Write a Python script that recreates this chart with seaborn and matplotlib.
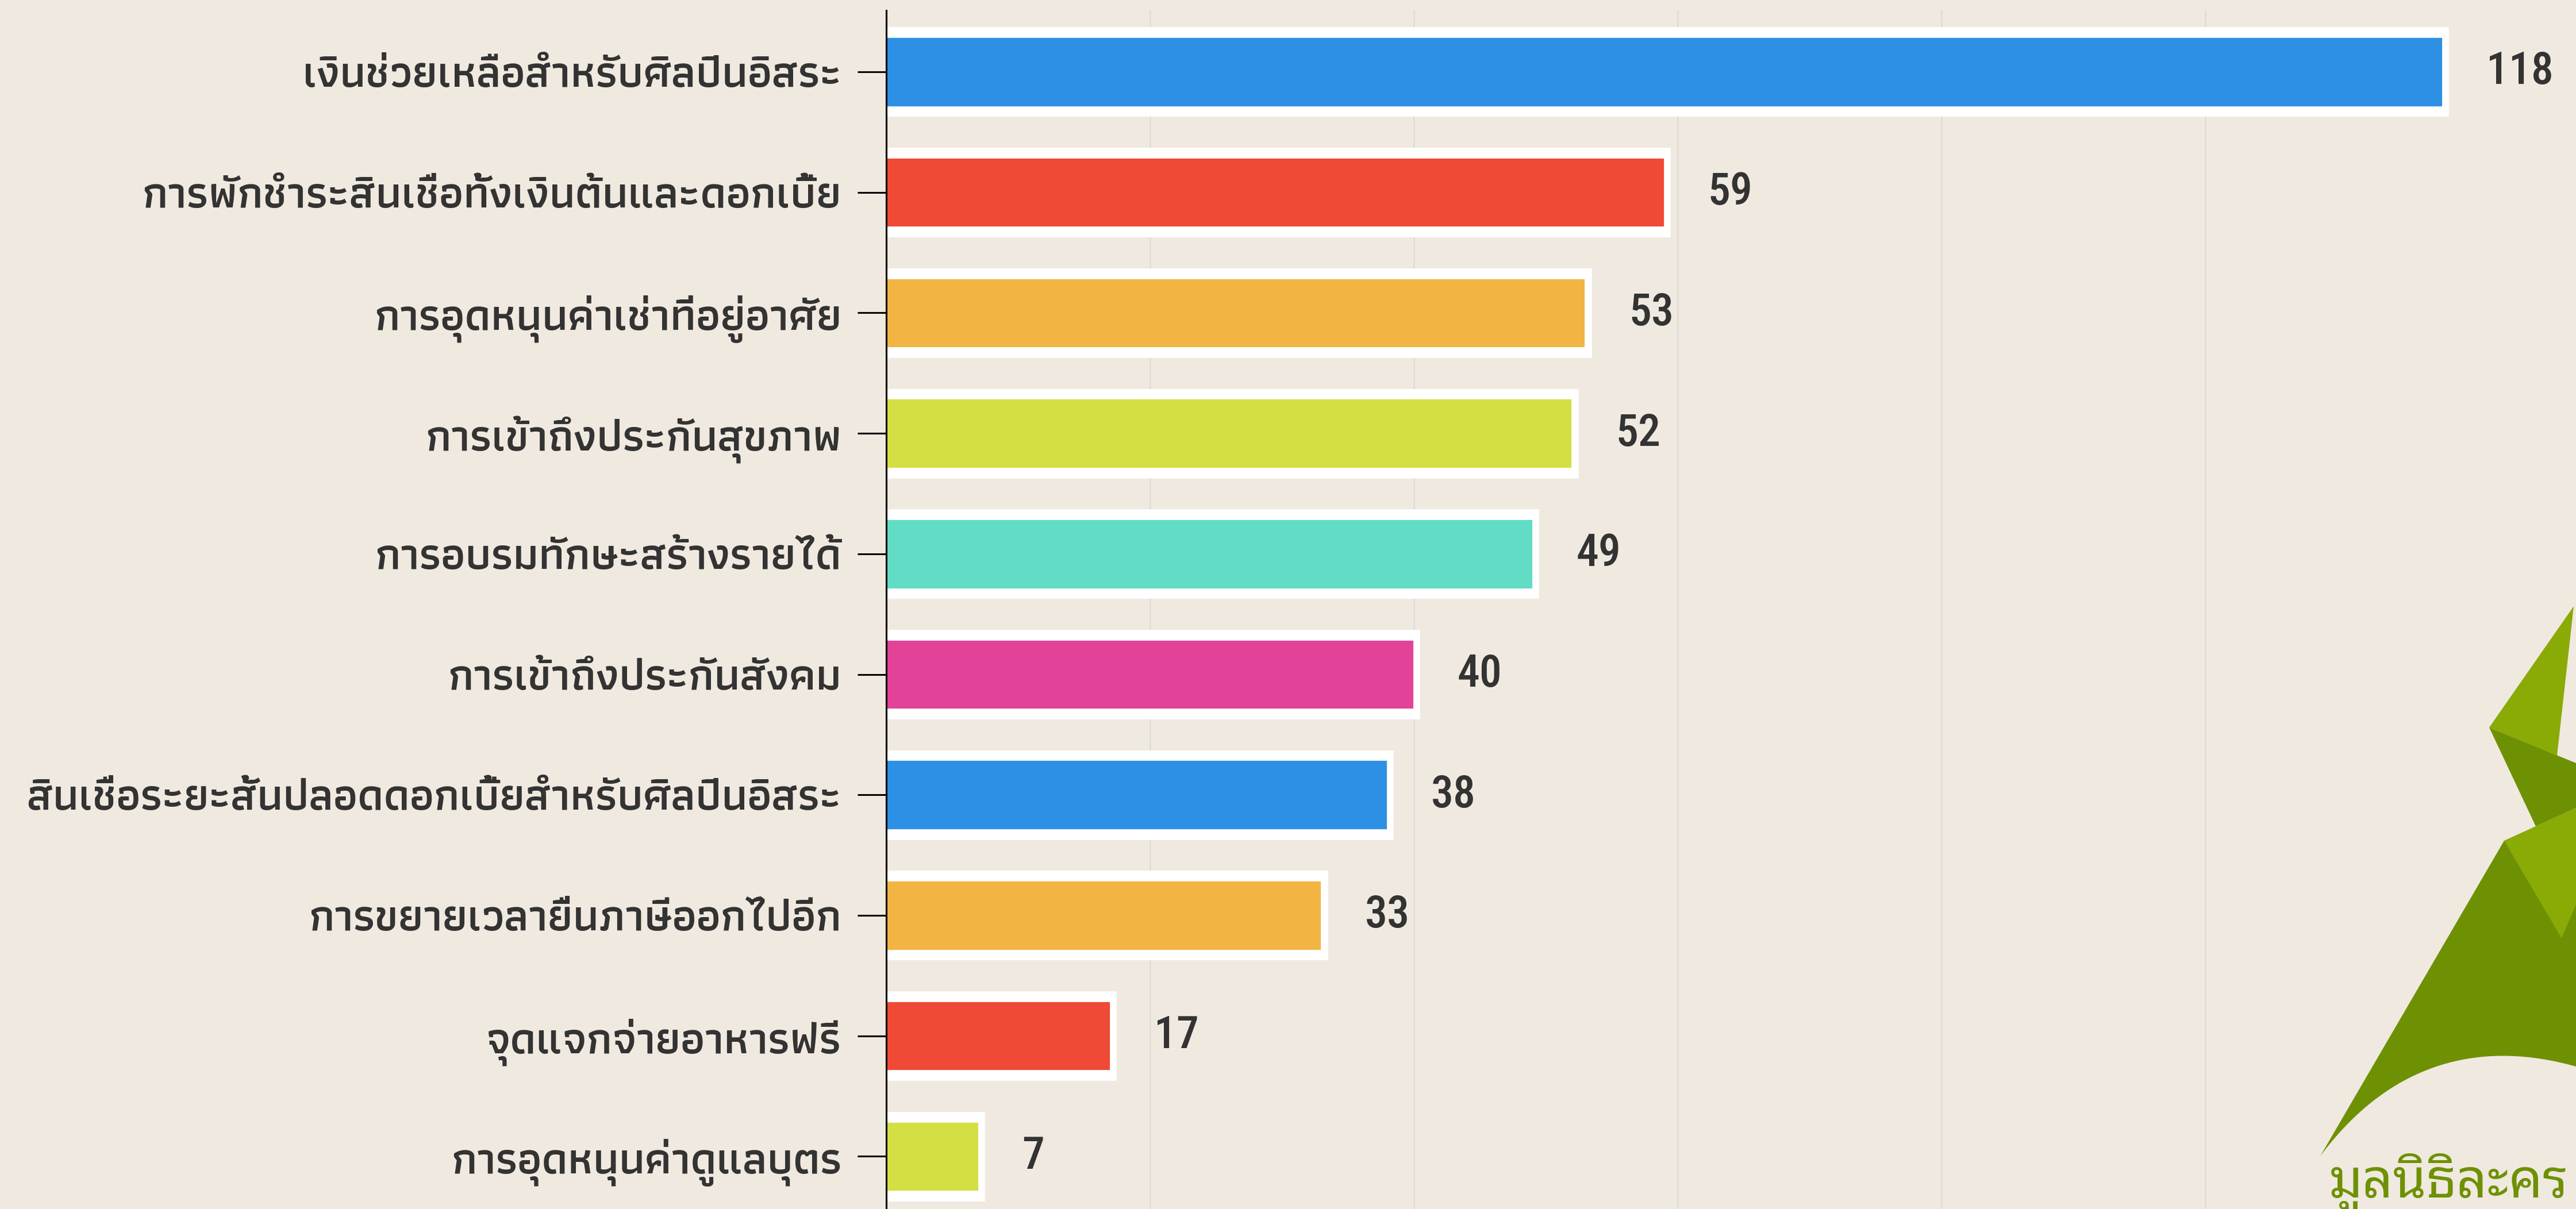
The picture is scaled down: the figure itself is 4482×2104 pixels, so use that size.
import matplotlib
matplotlib.use("Agg")
import matplotlib.pyplot as plt
import numpy as np
import pandas as pd
import seaborn as sns
from matplotlib.patches import Polygon

# ---- data ----
labels = [
    "เงินช่วยเหลือสำหรับศิลปินอิสระ",
    "การพักชำระสินเชื่อทั้งเงินต้นและดอกเบี้ย",
    "การอุดหนุนค่าเช่าที่อยู่อาศัย",
    "การเข้าถึงประกันสุขภาพ",
    "การอบรมทักษะสร้างรายได้",
    "การเข้าถึงประกันสังคม",
    "สินเชื่อระยะสั้นปลอดดอกเบี้ยสำหรับศิลปินอิสระ",
    "การขยายเวลายื่นภาษีออกไปอีก",
    "จุดแจกจ่ายอาหารฟรี",
    "การอุดหนุนค่าดูแลบุตร",
]
values = [118, 59, 53, 52, 49, 40, 38, 33, 17, 7]
bar_colors = ["#2e90e5", "#ef4a35", "#f2b543", "#d4df44", "#62dcc5",
              "#e24399", "#2e90e5", "#f2b543", "#ef4a35", "#d4df44"]
grid_ticks = [0, 20, 40, 60, 80, 100]

df = pd.DataFrame({"label": labels, "value": values})
df["frame"] = df["value"] + 0.4

BG = "#f0e9df"
sns.set_theme(style="white")
thai_font = ["Athiti", "DejaVu Sans"]
num_font = ["Roboto Condensed", "DejaVu Sans"]

W, H = 4482, 2104
fig = plt.figure(figsize=(W / 200, H / 200), dpi=200, facecolor=BG)
ax = fig.add_axes([1542 / W, 0, 2754 / W, (H - 18) / H])
ax.set_facecolor(BG)

# white frame behind each bar, then the coloured bar
sns.barplot(data=df, x="frame", y="label", order=labels, color="white",
            saturation=1, width=0.73, errorbar=None, ax=ax, zorder=2)
sns.barplot(data=df, x="value", y="label", order=labels, hue="label",
            palette=bar_colors, saturation=1, width=0.58, errorbar=None,
            legend=False, ax=ax, zorder=3)

ax.set_xlim(0, 120)
ax.set_ylim(9.437, -0.51)
ax.set_xticks(grid_ticks)
ax.tick_params(axis="x", length=0, labelbottom=False)
ax.xaxis.grid(True, color="#dcdcd6", linewidth=0.9, zorder=0)
ax.set_axisbelow(True)
ax.set_xlabel("")
ax.set_ylabel("")
for s in ["top", "right", "bottom"]:
    ax.spines[s].set_visible(False)
ax.spines["left"].set_color("black")
ax.spines["left"].set_linewidth(1.1)
ax.spines["left"].set_zorder(5)
ax.tick_params(axis="y", left=True, length=18, width=1.1, color="black", pad=10,
               labelsize=28, labelcolor="#333333")
for t in ax.get_yticklabels():
    t.set_fontfamily(thai_font)
    t.set_fontweight(600)

for i, v in enumerate(values):
    ax.text(v + 3.3, i, str(v), ha="left", va="center", fontsize=28,
            fontweight=500, color="#333333", family=num_font, clip_on=False)

# foundation logo, bottom right
def px(pts):
    return [(x / W, 1 - y / H) for x, y in pts]

def bezier(p0, c1, c2, p3, n=40):
    t = np.linspace(0, 1, n)[:, None]
    p0, c1, c2, p3 = map(np.array, (p0, c1, c2, p3))
    pts = (1 - t) ** 3 * p0 + 3 * (1 - t) ** 2 * t * c1 + 3 * (1 - t) * t ** 2 * c2 + t ** 3 * p3
    return [tuple(p) for p in pts]

LIGHT, DARK = "#8aaa06", "#6e9104"
curve = bezier((4482, 1856), (4300, 1805), (4150, 1860), (4037, 2012))
shapes = [
    ([(4357, 1463), (4482, 1470)] + curve, DARK),
    ([(4357, 1463), (4482, 1406), (4482, 1574), (4457, 1633)], LIGHT),
    ([(4331, 1266), (4482, 1328), (4482, 1406), (4412, 1438)], DARK),
    ([(4478, 1055), (4331, 1266), (4449, 1315)], LIGHT),
]
for pts, c in shapes:
    fig.patches.append(Polygon(px(pts), closed=True, facecolor=c, edgecolor="none",
                               transform=fig.transFigure, figure=fig))
fig.text(4052 / W, 1 - 2084 / H, "มูลนิธิละคร", fontsize=33.5, fontweight=300,
         color=DARK, family=["Noto Sans Thai Looped", "DejaVu Sans"],
         ha="left", va="baseline")

fig.savefig("out.png", dpi=200, facecolor=BG)
